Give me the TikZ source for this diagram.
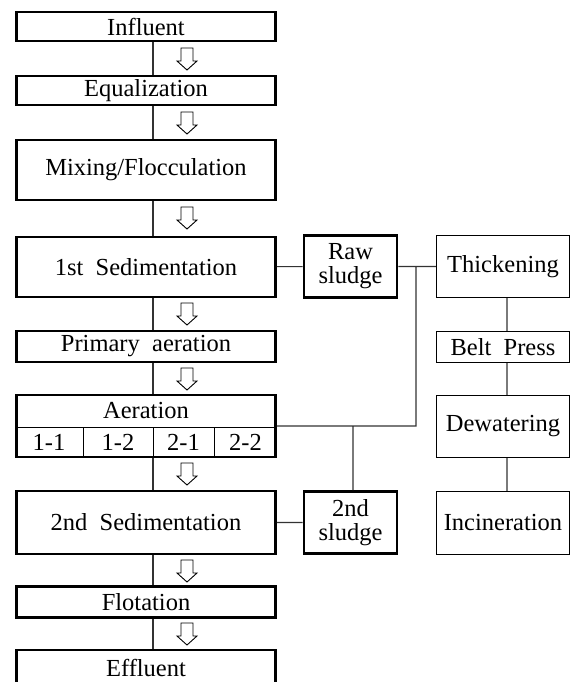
\documentclass[tikz,border=0pt]{standalone}
\usepackage{fontspec}
\setmainfont{Liberation Serif}
\tikzset{proc/.style={draw,line width=2.6pt,inner sep=0pt,minimum width=259,align=center,font=\fontsize{24.5}{24}\selectfont},
 sludge/.style={proc,minimum width=93,minimum height=62},
 unit/.style={draw,line width=1.1pt,inner sep=0pt,minimum width=133,align=center,font=\fontsize{24.5}{24}\selectfont},
 cell/.style={inner sep=0pt,font=\fontsize{24.5}{24}\selectfont},
 link/.style={line width=1.1pt,draw=black!80},
 flow/.pic={\draw[line width=0.9pt] (-6,0)--(-6,13)--(-10,13)--(0,22)--(10,13)--(6,13)--(6,0)--cycle;}}
\begin{document}
\begin{tikzpicture}[x=1pt,y=-1pt]
\clip(0,0) rectangle (573,682);
\useasboundingbox(0,0) rectangle (573,682);
\coordinate(lx) at(153,0);\coordinate(rx) at(507,0);
% main line
\node[proc,minimum height=29](infl) at(146,26.5){Influent};
\node[proc,minimum height=29](equal) at(146,90.5){Equalization};
\node[proc,minimum height=60](mix) at(146,170){Mixing/Flocculation};
\node[proc,minimum height=60](sed1) at(146,267){1st\ \ Sedimentation};
\node[proc,minimum height=31](prim) at(146,346.5){Primary\ \ aeration};
\node[proc,minimum height=62](aer) at(146,426){};
\node[cell](aert) at(146,410.5){Aeration};
\node[cell](a11) at(49,442.5){1-1};\node[cell](a12) at(118,442.5){1-2};
\node[cell](a21) at(183.5,442.5){2-1};\node[cell](a22) at(245.5,442.5){2-2};
\draw[line width=1pt](aer.west|-0,427)--(aer.east|-0,427)
 (83,427)--(83,458)(153,427)--(153,458)(214,427)--(214,458);
\node[proc,minimum height=63](sed2) at(146,522.5){2nd\ \ Sedimentation};
\node[proc,minimum height=31](flot) at(146,602){Flotation};
\node[proc,minimum height=36](effl) at(146,668){Effluent};
\draw[link](infl.south-|lx)--(equal.north-|lx)(equal.south-|lx)--(mix.north-|lx)
 (mix.south-|lx)--(sed1.north-|lx)(sed1.south-|lx)--(prim.north-|lx)
 (prim.south-|lx)--(aer.north-|lx)(aer.south-|lx)--(sed2.north-|lx)
 (sed2.south-|lx)--(flot.north-|lx)(flot.south-|lx)--(effl.north-|lx);
\foreach \y in {48,112,207,303,368,463,560,623} \pic at(187,\y){flow};
% sludge line
\node[sludge](raw) at(350.5,266.5){Raw\\sludge};
\node[sludge](sl2) at(350.5,522.5){2nd\\sludge};
\node[unit,minimum height=62](thick) at(503,266.5){Thickening};
\node[unit,minimum height=31](belt) at(503,347){Belt\ \ Press};
\node[unit,minimum height=62](dewat) at(503,426.5){Dewatering};
\node[unit,minimum height=63](incin) at(503,523){Incineration};
\coordinate(j1) at(416,266.5);\coordinate(j2) at(353,426);
\draw[link](sed1)--(raw)(raw)--(thick)(j1)|-(aer.east)(j2)--(j2|-sl2.north)(sed2)--(sl2)
 (thick.south-|rx)--(belt.north-|rx)(belt.south-|rx)--(dewat.north-|rx)(dewat.south-|rx)--(incin.north-|rx);
\end{tikzpicture}
\end{document}
